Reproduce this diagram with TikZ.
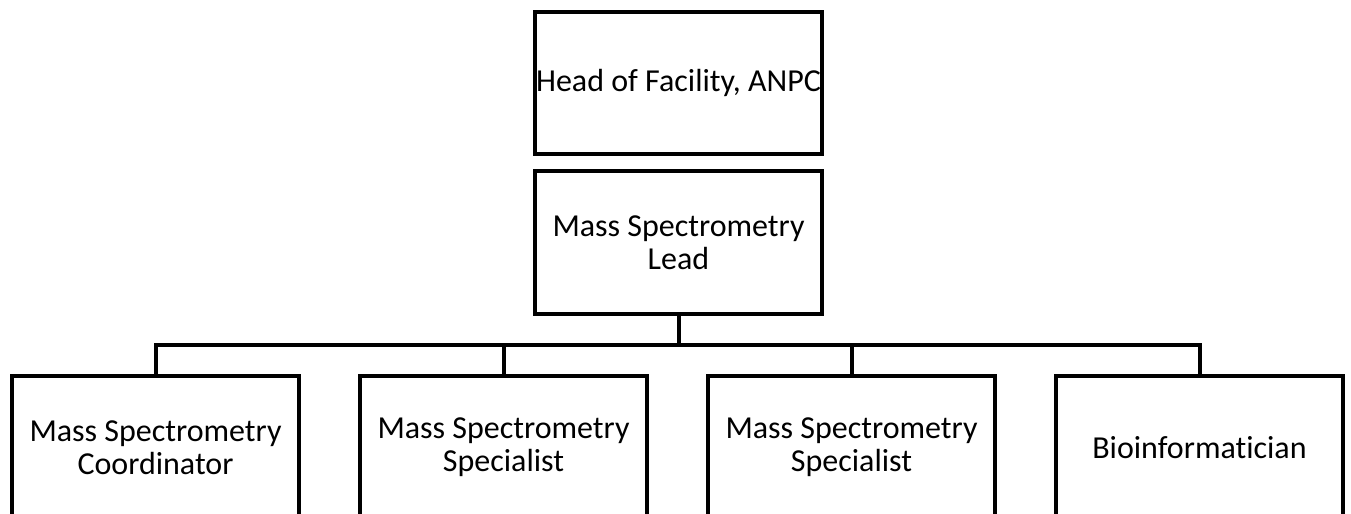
\documentclass[tikz,border=0pt]{standalone}
\usepackage{fontspec}
\setmainfont{Carlito}[Ligatures={NoCommon}]
\usetikzlibrary{positioning}

\begin{document}
\begin{tikzpicture}[-,line width=2pt,node distance=30.5pt,
    role node/.style={rectangle,draw,line width=2pt,minimum width=143.5pt,minimum height=71.5pt,inner sep=0pt,outer sep=0pt,align=center,font=\fontsize{16pt}{16.5pt}\selectfont}]

            \useasboundingbox (0,0) rectangle (675.5pt,-257pt);

            \node[role node, minimum height=71pt] (head) at (339.25pt,-41.5pt) {Head of Facility, ANPC};
            \node[role node] (lead) [below=8.5pt of head] {Mass Spectrometry\\Lead};

            \node[role node] (coord) at (77.75pt,-223.75pt) {Mass Spectrometry\\Coordinator};
            \node[role node] (spec1) [right=of coord] {Mass Spectrometry\\Specialist};
            \node[role node] (spec2) [right=of spec1] {Mass Spectrometry\\Specialist};
            \node[role node] (bioinf) [right=of spec2] {Bioinformatician};

            % lead to team
            \draw (lead.south) -- ++(0,-15.5pt) -| (coord.north);
            \draw (lead.south) -- ++(0,-15.5pt) -| (spec1.north);
            \draw (lead.south) -- ++(0,-15.5pt) -| (spec2.north);
            \draw (lead.south) -- ++(0,-15.5pt) -| (bioinf.north);

        \end{tikzpicture}
\end{document}
